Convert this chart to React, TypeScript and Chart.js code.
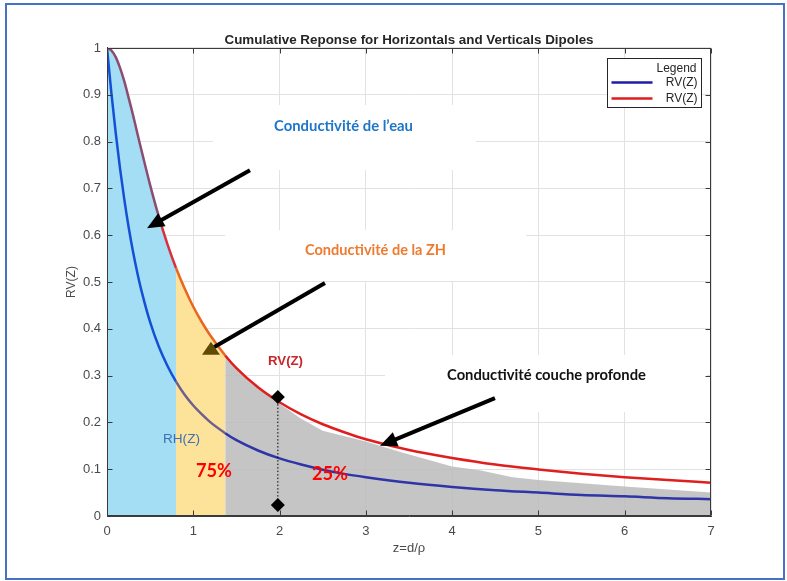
import React, { useEffect, useRef } from 'react';
import { Chart, registerables } from 'chart.js';

Chart.register(...registerables);

// ---- data ----
const Z = [0, 0.05, 0.1, 0.15, 0.2, 0.25, 0.3, 0.35, 0.4, 0.5, 0.6, 0.7, 0.8, 0.9, 1.0, 1.1, 1.2, 1.37, 1.5, 1.75, 2, 2.25, 2.5, 2.75, 3, 3.5, 4, 4.5, 5, 5.5, 6, 6.5, 7];
const RV = [1, 0.995, 0.981, 0.958, 0.929, 0.894, 0.858, 0.819, 0.781, 0.707, 0.64, 0.581, 0.53, 0.486, 0.447, 0.414, 0.385, 0.343, 0.316, 0.275, 0.243, 0.217, 0.196, 0.179, 0.164, 0.141, 0.124, 0.11, 0.0995, 0.0905, 0.083, 0.0767, 0.0712];
const RH = [1, 0.905, 0.82, 0.744, 0.677, 0.618, 0.566, 0.521, 0.481, 0.414, 0.362, 0.321, 0.287, 0.259, 0.236, 0.217, 0.2, 0.177, 0.162, 0.14, 0.123, 0.11, 0.099, 0.09, 0.083, 0.071, 0.062, 0.055, 0.05, 0.045, 0.042, 0.038, 0.036];

// zone limits along z (water / ZH / deep layer)
const ZONE_EDGES = [0, 0.8, 1.37, 7];

// hand-drawn grey area top (deep layer)
const GRAY_Z = [1.37, 1.5, 1.75, 2.0, 2.25, 2.5, 3.0, 3.4, 4.0, 4.32, 4.7, 5.0, 6.0, 7.0];
const GRAY_V = [0.343, 0.316, 0.275, 0.24, 0.208, 0.182, 0.159, 0.137, 0.106, 0.098, 0.083, 0.077, 0.063, 0.05];

// diamond markers
const DIAMOND_Z = [1.98, 1.98];
const DIAMOND_V = [0.254, 0.0235];

// ticks
const X_TICKS = [0, 1, 2, 3, 4, 5, 6, 7];
const X_TICK_LABELS = ['0', '1', '2', '3', '4', '5', '6', '7'];
const Y_TICKS = [0, 0.1, 0.2, 0.3, 0.4, 0.5, 0.6, 0.7, 0.8, 0.9, 1];
const Y_TICK_LABELS = ['0', '0.1', '0.2', '0.3', '0.4', '0.5', '0.6', '0.7', '0.8', '0.9', '1'];

const LEGEND_LABELS = ['RV(Z)', 'RV(Z)'];

// annotation notes (data coordinates)
const NOTE_TEXTS = ['Conductivité de l’eau', 'Conductivité de la ZH', 'Conductivité couche profonde'];
const NOTE_Z = [2.741, 3.112, 5.093];
const NOTE_V = [0.833, 0.568, 0.301];
const NOTE_BOX_Z0 = [1.228, 1.367, 3.222];
const NOTE_BOX_Z1 = [4.276, 4.856, 6.953];
const NOTE_BOX_V0 = [0.878, 0.611, 0.344];
const NOTE_BOX_V1 = [0.739, 0.502, 0.222];

const ARROW_FROM_Z = [1.657, 2.526, 4.496];
const ARROW_FROM_V = [0.739, 0.498, 0.252];
const ARROW_TO_Z = [0.464, 1.205, 3.164];
const ARROW_TO_V = [0.615, 0.355, 0.15];

const LABEL_TEXTS = ['RV(Z)', 'RH(Z)', '75%', '25%'];
const LABEL_Z = [2.069, 0.863, 1.24, 2.584];
const LABEL_V = [0.331, 0.165, 0.096, 0.0897];

// ---- styles ----
const FONT = "'Liberation Sans', Arial, Helvetica, sans-serif";
const NOTE_FONT = "Lato, 'Open Sans', sans-serif";
const NOTE_COLORS = ['#1f76c8', '#ef7b30', '#111111'];
const NOTE_WIDTHS = [139, 141, 199];
const LABEL_STYLES = [
  { weight: 'bold', family: FONT, width: 35, color: '#c9252c' },
  { weight: 'normal', family: FONT, width: 37, color: '#3f6fb4' },
  { weight: 'bold', family: NOTE_FONT, width: 36, color: '#ff0000' },
  { weight: 'bold', family: NOTE_FONT, width: 36, color: '#ff0000' },
];
const ARROW_KIND = ['arrow', 'triangle', 'arrow'];
const RV_COLOR = '#df1e1e';
const RH_COLOR = '#1c1ca8';
const TEXT_GRAY = '#4a4a4a';

function rvColor(z: number) {
  if (z < 0.55) return '#8c4c70';
  if (z < ZONE_EDGES[1]) return '#d8303e';
  if (z < ZONE_EDGES[2]) return '#ea6620';
  return RV_COLOR;
}
function rhColor(z: number) {
  if (z < ZONE_EDGES[1]) return '#1450d6';
  if (z < ZONE_EDGES[2]) return '#6f5f8e';
  return '#2f35a6';
}

const pts = (xs: number[], ys: number[]) => xs.map((x, i) => ({ x, y: ys[i] }));
const zone = (lo: number, hi: number) => {
  const xs: number[] = [];
  const ys: number[] = [];
  Z.forEach((z, i) => {
    if (z >= lo - 1e-9 && z <= hi + 1e-9) {
      xs.push(z);
      ys.push(RV[i]);
    }
  });
  return pts(xs, ys);
};

function fitFont(ctx: CanvasRenderingContext2D, text: string, weight: string, family: string, width: number) {
  ctx.font = `${weight} 20px ${family}`;
  const w = ctx.measureText(text).width || 1;
  return `${weight} ${((20 * width) / w).toFixed(2)}px ${family}`;
}

function drawArrow(ctx: CanvasRenderingContext2D, x0: number, y0: number, x1: number, y1: number) {
  const ang = Math.atan2(y1 - y0, x1 - x0);
  const head = 17;
  const hw = 7.5;
  const bx = x1 - head * Math.cos(ang);
  const by = y1 - head * Math.sin(ang);
  ctx.beginPath();
  ctx.moveTo(x0, y0);
  ctx.lineTo(bx + 2 * Math.cos(ang), by + 2 * Math.sin(ang));
  ctx.lineWidth = 4;
  ctx.strokeStyle = '#000';
  ctx.stroke();
  ctx.beginPath();
  ctx.moveTo(x1, y1);
  ctx.lineTo(bx + hw * Math.sin(ang), by - hw * Math.cos(ang));
  ctx.lineTo(bx - hw * Math.sin(ang), by + hw * Math.cos(ang));
  ctx.closePath();
  ctx.fillStyle = '#000';
  ctx.fill();
}

const overlay = {
  id: 'overlay',
  beforeDatasetsDraw(chart: any) {
    const { ctx, scales } = chart;
    const sx = scales.x;
    const sy = scales.y;
    ctx.save();
    ctx.fillStyle = '#ffffff';
    NOTE_TEXTS.forEach((_, i) => {
      const x0 = sx.getPixelForValue(NOTE_BOX_Z0[i]);
      const x1 = sx.getPixelForValue(NOTE_BOX_Z1[i]);
      const y0 = sy.getPixelForValue(NOTE_BOX_V0[i]);
      const y1 = sy.getPixelForValue(NOTE_BOX_V1[i]);
      ctx.fillRect(x0, y0, x1 - x0, y1 - y0);
    });
    ctx.restore();
  },
  afterDatasetsDraw(chart: any) {
    const { ctx, chartArea: a, scales } = chart;
    const sx = scales.x;
    const sy = scales.y;
    ctx.save();

    // axes box + inner ticks
    ctx.strokeStyle = '#3a3a3a';
    ctx.lineWidth = 1;
    const L = Math.round(a.left) + 0.5;
    const R = Math.round(a.right) - 0.5;
    const T = Math.round(a.top) + 0.5;
    const B = Math.round(a.bottom) - 0.5;
    ctx.strokeRect(L, T, R - L, B - T);
    ctx.beginPath();
    X_TICKS.forEach((v) => {
      const px = Math.round(sx.getPixelForValue(v)) + 0.5;
      ctx.moveTo(px, T);
      ctx.lineTo(px, T + 5);
      ctx.moveTo(px, B);
      ctx.lineTo(px, B - 5);
    });
    Y_TICKS.forEach((v) => {
      const py = Math.round(sy.getPixelForValue(v)) + 0.5;
      ctx.moveTo(L, py);
      ctx.lineTo(L + 5, py);
      ctx.moveTo(R, py);
      ctx.lineTo(R - 5, py);
    });
    ctx.stroke();

    // arrows
    ARROW_KIND.forEach((kind, i) => {
      const x0 = sx.getPixelForValue(ARROW_FROM_Z[i]);
      const y0 = sy.getPixelForValue(ARROW_FROM_V[i]);
      const x1 = sx.getPixelForValue(ARROW_TO_Z[i]);
      const y1 = sy.getPixelForValue(ARROW_TO_V[i]);
      if (kind === 'arrow') {
        drawArrow(ctx, x0, y0, x1, y1);
      } else {
        ctx.beginPath();
        ctx.moveTo(x0, y0);
        ctx.lineTo(x1 + 2, y1 - 2);
        ctx.lineWidth = 4;
        ctx.strokeStyle = '#000';
        ctx.stroke();
        ctx.beginPath();
        ctx.moveTo(x1, y1 - 8);
        ctx.lineTo(x1 + 9, y1 + 5);
        ctx.lineTo(x1 - 9, y1 + 5);
        ctx.closePath();
        ctx.fillStyle = '#5e4a00';
        ctx.fill();
      }
    });

    // notes
    ctx.textAlign = 'center';
    ctx.textBaseline = 'middle';
    NOTE_TEXTS.forEach((t, i) => {
      ctx.font = fitFont(ctx, t, 'bold', NOTE_FONT, NOTE_WIDTHS[i]);
      ctx.fillStyle = NOTE_COLORS[i];
      ctx.fillText(t, sx.getPixelForValue(NOTE_Z[i]), sy.getPixelForValue(NOTE_V[i]));
    });

    // labels
    LABEL_TEXTS.forEach((t, i) => {
      const s = LABEL_STYLES[i];
      ctx.font = fitFont(ctx, t, s.weight, s.family, s.width);
      ctx.fillStyle = s.color;
      ctx.fillText(t, sx.getPixelForValue(LABEL_Z[i]), sy.getPixelForValue(LABEL_V[i]));
    });

    // legend box
    const lw = 94;
    const lh = 49;
    const lx = Math.round(a.right) - 10 - lw + 0.5;
    const ly = Math.round(a.top) + 10 + 0.5;
    ctx.fillStyle = '#ffffff';
    ctx.fillRect(lx, ly, lw, lh);
    ctx.strokeStyle = '#262626';
    ctx.lineWidth = 1;
    ctx.strokeRect(lx, ly, lw, lh);
    ctx.font = `12px ${FONT}`;
    ctx.fillStyle = '#262626';
    ctx.textAlign = 'right';
    ctx.fillText('Legend', lx + lw - 5, ly + 10.5);
    const legendColors = [RH_COLOR, RV_COLOR];
    LEGEND_LABELS.forEach((lab, i) => {
      const yy = ly + 24 + i * 16;
      ctx.beginPath();
      ctx.moveTo(lx + 4, yy);
      ctx.lineTo(lx + 45, yy);
      ctx.lineWidth = 2.5;
      ctx.strokeStyle = legendColors[i];
      ctx.stroke();
      ctx.fillStyle = '#262626';
      ctx.fillText(lab, lx + lw - 4, yy);
    });

    ctx.restore();
  },
};

export default function App() {
  const ref = useRef<HTMLCanvasElement | null>(null);

  useEffect(() => {
    if (!ref.current) return;
    const chart = new Chart(ref.current, {
      type: 'line',
      data: {
        datasets: [
          {
            data: pts(DIAMOND_Z, DIAMOND_V),
            borderColor: '#000',
            borderWidth: 1,
            borderDash: [1.5, 2],
            pointStyle: 'rectRot',
            pointRadius: 7,
            pointBackgroundColor: '#000',
            pointBorderColor: '#000',
            pointBorderWidth: 0,
            fill: false,
            order: 0,
          },
          {
            label: 'RV(Z)',
            data: pts(Z, RV),
            borderColor: RV_COLOR,
            borderWidth: 2.5,
            pointRadius: 0,
            cubicInterpolationMode: 'monotone',
            fill: false,
            segment: { borderColor: (c: any) => rvColor(c.p0.parsed.x) },
            order: 1,
          },
          {
            label: 'RH(Z)',
            data: pts(Z, RH),
            borderColor: RH_COLOR,
            borderWidth: 2.5,
            pointRadius: 0,
            cubicInterpolationMode: 'monotone',
            fill: false,
            segment: { borderColor: (c: any) => rhColor(c.p0.parsed.x) },
            order: 2,
          },
          {
            data: pts(GRAY_Z, GRAY_V),
            borderColor: 'transparent',
            borderWidth: 1,
            backgroundColor: 'rgba(188,188,188,0.86)',
            pointRadius: 0,
            tension: 0,
            fill: 'origin',
            order: 3,
          },
          {
            data: zone(ZONE_EDGES[1], ZONE_EDGES[2]),
            borderColor: 'transparent',
            borderWidth: 1,
            backgroundColor: '#fde29a',
            pointRadius: 0,
            cubicInterpolationMode: 'monotone',
            fill: 'origin',
            order: 4,
          },
          {
            data: zone(ZONE_EDGES[0], ZONE_EDGES[1]),
            borderColor: 'transparent',
            borderWidth: 1,
            backgroundColor: '#a3def4',
            pointRadius: 0,
            cubicInterpolationMode: 'monotone',
            fill: 'origin',
            order: 5,
          },
        ],
      },
      options: {
        responsive: false,
        animation: false,
        devicePixelRatio: 1,
        events: [],
        layout: { padding: { left: 0, right: 76, top: 0, bottom: 0 } },
        plugins: {
          legend: { display: false },
          tooltip: { enabled: false },
          title: {
            display: true,
            fullSize: false,
            text: 'Cumulative Reponse for Horizontals and Verticals Dipoles',
            color: '#262626',
            font: { family: FONT, size: 13.4, weight: 'bold' },
            padding: { top: 31.9, bottom: 0 },
          },
        },
        scales: {
          x: {
            type: 'linear',
            min: 0,
            max: 7,
            afterBuildTicks: (s: any) => {
              s.ticks = X_TICKS.map((v) => ({ value: v }));
            },
            afterFit: (s: any) => {
              s.height = 65;
            },
            ticks: {
              color: TEXT_GRAY,
              font: { family: FONT, size: 13 },
              padding: 8,
              maxRotation: 0,
              callback: (_v: any, i: number) => X_TICK_LABELS[i],
            },
            grid: { color: '#e2e2e2', drawTicks: false },
            border: { color: '#3a3a3a', width: 1 },
            title: {
              display: true,
              text: 'z=d/ρ',
              color: TEXT_GRAY,
              font: { family: FONT, size: 13 },
              padding: { top: 0, bottom: 25 },
            },
          },
          y: {
            type: 'linear',
            min: 0,
            max: 1,
            afterBuildTicks: (s: any) => {
              s.ticks = Y_TICKS.map((v) => ({ value: v }));
            },
            afterFit: (s: any) => {
              s.width = 107;
            },
            ticks: {
              color: TEXT_GRAY,
              font: { family: FONT, size: 13 },
              padding: 6,
              callback: (_v: any, i: number) => Y_TICK_LABELS[i],
            },
            grid: { color: '#e2e2e2', drawTicks: false },
            border: { color: '#3a3a3a', width: 1 },
            title: {
              display: true,
              text: 'RV(Z)',
              color: TEXT_GRAY,
              font: { family: FONT, size: 12 },
              padding: { top: 64, bottom: 0 },
            },
          },
        },
      },
      plugins: [overlay],
    } as any);
    return () => chart.destroy();
  }, []);

  return (
    <div style={{ position: 'fixed', left: 0, top: 0, width: 787, height: 581, background: '#ffffff' }}>
      <canvas ref={ref} width={787} height={581} style={{ position: 'absolute', left: 0, top: 0 }} />
      <div
        style={{
          position: 'absolute',
          left: 5,
          top: 3,
          width: 780,
          height: 577,
          border: '2px solid #4472c4',
          boxSizing: 'border-box',
          pointerEvents: 'none',
        }}
      />
    </div>
  );
}
